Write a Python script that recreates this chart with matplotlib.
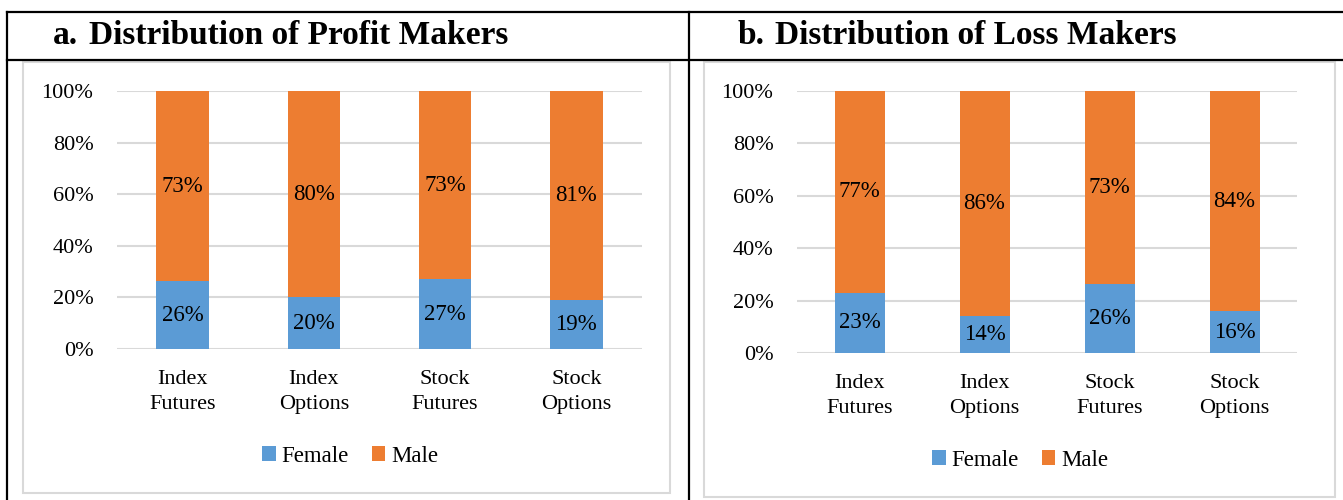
import matplotlib.pyplot as plt
from matplotlib.lines import Line2D
from matplotlib.patches import Rectangle

categories = ["Index\nFutures", "Index\nOptions", "Stock\nFutures", "Stock\nOptions"]
profit_female = [26, 20, 27, 19]
profit_male = [73, 80, 73, 81]
loss_female = [23, 14, 26, 16]
loss_male = [77, 86, 73, 84]
titles = ["Distribution of Profit Makers", "Distribution of Loss Makers"]
title_tags = ["a.", "b."]
yticks = [0, 20, 40, 60, 80, 100]

BLUE = "#5b9bd5"
ORANGE = "#ed7d31"
GRID = "#d9d9d9"
W, H = 1343, 500

plt.rcParams["font.family"] = ["Liberation Serif", "DejaVu Serif"]

fig = plt.figure(figsize=(W / 100, H / 100), dpi=100)


def fx(px):
    return px / W


def fy(py):
    return 1 - py / H


# table borders
for (x0, y0, x1, y1) in [(7, 12, 1343, 12), (7, 60, 1343, 60), (7, 12, 7, 500), (689, 12, 689, 500)]:
    fig.add_artist(Line2D([fx(x0), fx(x1)], [fy(y0), fy(y1)], color="black", lw=1.6))

# chart boxes
for (x0, y0, x1, y1) in [(23, 62, 670, 493), (704, 62, 1335, 497)]:
    fig.add_artist(Rectangle((fx(x0), fy(y1)), fx(x1) - fx(x0), fy(y0) - fy(y1),
                             fill=False, edgecolor=GRID, lw=1.5))

# titles
for tx, dx, tag, title in [(53, 89, title_tags[0], titles[0]), (738, 775, title_tags[1], titles[1])]:
    fig.text(fx(tx), fy(35), tag, fontsize=24, fontweight="bold", va="center", ha="left")
    fig.text(fx(dx), fy(35), title, fontsize=24, fontweight="bold", va="center", ha="left")

panels = [
    (profit_female, profit_male, (117, 91, 642, 349), (350, 456)),
    (loss_female, loss_male, (797, 91, 1297, 353), (1020, 460)),
]

for female, male, (x0, y0, x1, y1), (lx, ly) in panels:
    ax = fig.add_axes([fx(x0), fy(y1), fx(x1) - fx(x0), fy(y0) - fy(y1)])
    tot = [f + m for f, m in zip(female, male)]
    f_pct = [100 * f / t for f, t in zip(female, tot)]
    m_pct = [100 * m / t for m, t in zip(male, tot)]
    xs = range(len(categories))
    b1 = ax.bar(xs, f_pct, width=0.4, color=BLUE, label="Female", zorder=3)
    b2 = ax.bar(xs, m_pct, width=0.4, bottom=f_pct, color=ORANGE, label="Male", zorder=3)
    ax.bar_label(b1, labels=[f"{v}%" for v in female], label_type="center", fontsize=16.5)
    ax.bar_label(b2, labels=[f"{v}%" for v in male], label_type="center", fontsize=16.5)
    ax.set_xlim(-0.5, len(categories) - 0.5)
    ax.set_ylim(0, 100)
    ax.set_yticks(yticks)
    ax.set_yticklabels([f"{v}%" for v in yticks], fontsize=16)
    ax.set_xticks(list(xs))
    ax.set_xticklabels(categories, fontsize=16, linespacing=1.45)
    ax.tick_params(axis="y", length=0, pad=17)
    ax.tick_params(axis="x", length=0, pad=15)
    for s in ax.spines.values():
        s.set_visible(False)
    ax.grid(axis="y", color=GRID, lw=1.5, zorder=0)
    ax.set_axisbelow(True)
    ax.legend(loc="center", bbox_to_anchor=(fx(lx), fy(ly)), bbox_transform=fig.transFigure,
              ncol=2, frameon=False, fontsize=16.5, handlelength=0.6, handleheight=0.6,
              handletextpad=0.25, columnspacing=1.0)

fig.savefig("out.png", dpi=100)
